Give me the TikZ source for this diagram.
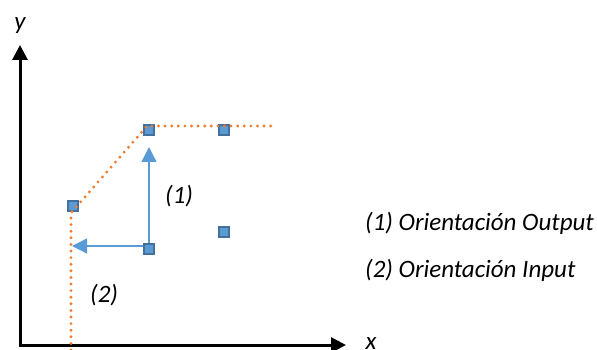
\documentclass[tikz,border=0pt]{standalone}
\usepackage{fontspec}
\setmainfont{Carlito}
\usetikzlibrary{arrows.meta}
\definecolor{ptfill}{HTML}{5B9BD5}
\definecolor{ptdraw}{HTML}{41719C}
\definecolor{front}{HTML}{ED7D31}
\begin{document}
\begin{tikzpicture}[x=1pt,y=-1pt,
  pt/.style={draw=ptdraw,fill=ptfill,line width=1.6pt,minimum size=10.5pt,inner sep=0pt,outer sep=0pt},
  axis/.style={line width=3pt,-{Triangle[width=15pt,length=15pt]}},
  bluearrow/.style={draw=ptfill,line width=1.3pt,-{Triangle[width=15pt,length=15pt]}},
  frontier/.style={draw=front,line width=3.2pt,line cap=round,dash pattern=on 0pt off 6.6pt},
  lbl/.style={font=\itshape\fontsize{25}{28}\selectfont,inner sep=0pt,anchor=base west}]
\useasboundingbox (0,0) rectangle (597,350);
% axes
\coordinate (O) at (20,345);
\coordinate (ytip) at (20,45);
\coordinate (xtip) at (346,345);
\draw[axis] ([xshift=-1.5pt]O) -- (xtip);
\draw[axis] (O) -- (ytip);
\node[lbl,anchor=base] (ylab) at (20,30) {y};
\node[lbl,anchor=base] (xlab) at (371,349.5) {x};
% frontier
\coordinate (f0) at (71,350);
\coordinate (f1) at (71,213);
\coordinate (f2) at (147,126);
\coordinate (f3) at (272,126);
% points
\node[pt] (p1) at (149,130) {};
\node[pt] (p2) at (224,130) {};
\node[pt] (p3) at (73,206) {};
\node[pt] (p4) at (149,249) {};
\node[pt] (p5) at (224,232) {};
\draw[frontier] (f0) -- (f1) -- (f2) -- (f3);
% arrows
\coordinate (t1) at (149,147);
\coordinate (t2) at (72,246);
\draw[bluearrow] (p4.center) -- (t1);
\draw[bluearrow] (p4.center) |- (t2);
\node[pt] at (p4) {};
% labels
\node[lbl] (l1) at (165,203) {(1)};
\node[lbl] (l2) at (90,302) {(2)};
\node[lbl] (o1) at (365,230) {(1) Orientación Output};
\node[lbl] (o2) at (365,277) {(2) Orientación Input};
\end{tikzpicture}
\end{document}
